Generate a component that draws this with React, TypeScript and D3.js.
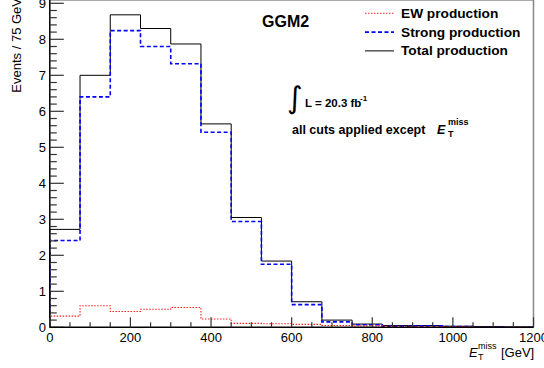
import React from "react";
import * as d3 from "d3";

const binEdges = [0, 75, 150, 225, 300, 375, 450, 525, 600, 675, 750, 825, 900, 975, 1050, 1125, 1200];
const totalProduction = [2.72, 7.0, 8.68, 8.3, 7.87, 5.65, 3.05, 1.84, 0.71, 0.2, 0.09, 0.05, 0.05, 0.03, 0.02, 0.01];
const ewProduction = [0.31, 0.6, 0.44, 0.5, 0.55, 0.23, 0.11, 0.1, 0.08, 0.05, 0.04, 0.03, 0.02, 0.02, 0.01, 0.01];
const strongProduction = [2.41, 6.4, 8.24, 7.8, 7.32, 5.42, 2.94, 1.75, 0.63, 0.15, 0.07, 0.03, 0.04, 0.02, 0.01, 0.0];
const xTickValues = [0, 200, 400, 600, 800, 1000, 1200];
const yTickValues = [0, 1, 2, 3, 4, 5, 6, 7, 8, 9];
const legendLabels = ["EW production", "Strong production", "Total production"];

const W = 544;
const H = 368;
const FONT = "'Liberation Sans', Arial, Helvetica, sans-serif";

export default function App() {
  const x = d3.scaleLinear().domain([0, 1200]).range([49.8, 533.5]);
  const y = d3.scaleLinear().domain([0, 9]).range([327.3, 3.3]);

  const stepPath = (vals: number[]) => {
    const pts: [number, number][] = [[binEdges[0], 0]];
    vals.forEach((v, i) => pts.push([binEdges[i], v]));
    pts.push([binEdges[binEdges.length - 1], vals[vals.length - 1]]);
    pts.push([binEdges[binEdges.length - 1], 0]);
    return d3
      .line<[number, number]>()
      .x((d) => x(d[0]))
      .y((d) => y(d[1]))
      .curve(d3.curveStepAfter)(pts) as string;
  };

  const yMinor = d3.range(0, 9.2001, 0.2).filter((v) => Math.abs(v - Math.round(v)) > 1e-6);
  const xMinor = d3.range(0, 1200.001, 50).filter((v) => v % 200 !== 0);

  const series = [
    { stroke: "#ff2020", dash: "1.5,1.5", width: 1.1 },
    { stroke: "#0000ff", dash: "4,2.5", width: 1.6 },
    { stroke: "#000000", dash: undefined, width: 1 },
  ];

  const x0 = x(0);
  const x1 = x(1200);
  const yb = y(0);

  return (
    <svg
      width={W}
      height={H}
      style={{ position: "absolute", left: 0, top: 0, background: "#fff" }}
      fontFamily={FONT}
    >
      <rect x={0} y={0} width={W} height={H} fill="#fff" />
      <line x1={x0} x2={x1} y1={0.5} y2={0.5} stroke="#aaa" strokeWidth={1} />
      <line x1={x1} x2={x1} y1={0} y2={yb} stroke="#888" strokeWidth={1.5} />

      <path d={stepPath(totalProduction)} fill="none" stroke="#000" strokeWidth={1} />
      <path d={stepPath(strongProduction)} fill="none" stroke="#0000ff" strokeWidth={1.6} strokeDasharray="4,2.5" />
      <path d={stepPath(ewProduction)} fill="none" stroke="#ff2020" strokeWidth={1.1} strokeDasharray="1.5,1.5" />

      <line x1={x0} x2={x0} y1={0} y2={yb} stroke="#000" strokeWidth={1.5} />
      {yTickValues.map((v) => (
        <g key={"yt" + v}>
          <line x1={x0} x2={x0 + 14} y1={y(v)} y2={y(v)} stroke="#333" strokeWidth={1.2} />
          <text x={46} y={y(v)} dy="0.36em" fontSize={13} textAnchor="end" fill="#000">
            {v}
          </text>
        </g>
      ))}
      {yMinor.map((v) => (
        <line key={"ym" + v} x1={x0} x2={x0 + 7} y1={y(v)} y2={y(v)} stroke="#333" strokeWidth={1.2} />
      ))}

      <line x1={x0} x2={x1} y1={yb} y2={yb} stroke="#000" strokeWidth={1.5} />
      {xTickValues.map((v) => (
        <g key={"xt" + v}>
          <line x1={x(v)} x2={x(v)} y1={yb} y2={yb - 10} stroke="#333" strokeWidth={1.2} />
          <text x={x(v)} y={342} fontSize={13} textAnchor="middle" fill="#000">
            {v}
          </text>
        </g>
      ))}
      {xMinor.map((v) => (
        <line key={"xm" + v} x1={x(v)} x2={x(v)} y1={yb} y2={yb - 5} stroke="#333" strokeWidth={1.2} />
      ))}

      <text transform="translate(20.5,-2) rotate(-90)" fontSize={13} textAnchor="end" fill="#000">
        Events / 75 GeV
      </text>
      <text x={469} y={357} fontSize={13} fontStyle="italic" fill="#000">E</text>
      <text x={478} y={349} fontSize={9} fill="#000">miss</text>
      <text x={478} y={360} fontSize={9} fill="#000">T</text>
      <text x={501} y={357} fontSize={13} fill="#000">[GeV]</text>

      <text x={262} y={27} fontSize={16} fontWeight="bold" fill="#000">GGM2</text>

      {legendLabels.map((lab, i) => {
        const s = series[i];
        const ly = 13.3 + i * 18.8;
        return (
          <g key={lab}>
            <line x1={365} x2={394} y1={ly} y2={ly} stroke={s.stroke} strokeWidth={s.width} strokeDasharray={s.dash} />
            <text x={401} y={ly + 4.5} fontSize={13.7} fontWeight="bold" fill="#000">
              {lab}
            </text>
          </g>
        );
      })}

      <text x={287} y={108} fontSize={30} fontFamily="'DejaVu Sans'" fill="#000">∫</text>
      <text x={305} y={107} fontSize={11.5} fontWeight="bold" fill="#000">L = 20.3 fb</text>
      <text x={360} y={101} fontSize={8} fontWeight="bold" fill="#000">-1</text>

      <text x={292} y={134} fontSize={12.5} fontWeight="bold" fill="#000">all cuts applied except</text>
      <text x={437} y={134} fontSize={12.5} fontWeight="bold" fontStyle="italic" fill="#000">E</text>
      <text x={448} y={125} fontSize={9} fontWeight="bold" fill="#000">miss</text>
      <text x={448} y={137} fontSize={9} fontWeight="bold" fill="#000">T</text>
    </svg>
  );
}
